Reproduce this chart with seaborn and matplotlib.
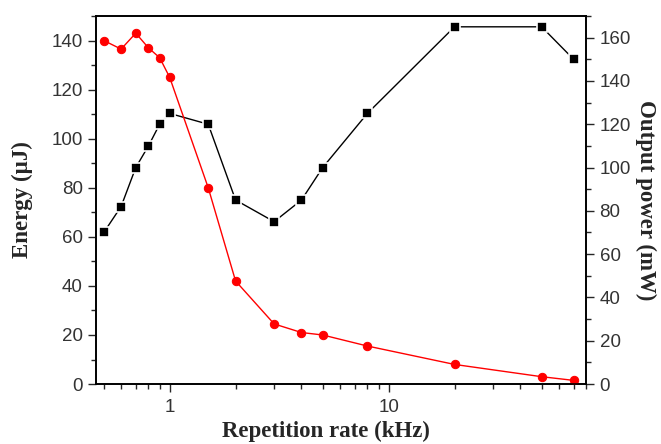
import matplotlib
matplotlib.use("Agg")
import matplotlib.pyplot as plt
import seaborn as sns
import pandas as pd
from matplotlib.ticker import MultipleLocator, LogLocator, NullFormatter

# -------------------------------
# Data
# -------------------------------

rate_khz = [0.5, 0.6, 0.7, 0.8, 0.9, 1, 1.5, 2, 3, 4, 5, 8, 20, 50, 70]
energy_uj = [140, 136.5, 143, 137, 133, 125, 80, 42, 24.5, 21, 20, 15.5, 8, 3, 1.5]
power_mw = [70, 82, 100, 110, 120, 125, 120, 85, 75, 85, 100, 125, 165, 165, 150]
x_ticks = [1, 10]
x_tick_labels = ["1", "10"]

df = pd.DataFrame({"rate": rate_khz, "energy": energy_uj, "power": power_mw})

# -------------------------------
# Plot
# -------------------------------

sns.set_style("ticks")
plt.rcParams["font.family"] = ["Liberation Sans", "DejaVu Sans"]

fig, ax = plt.subplots(figsize=(6.61, 4.44), dpi=100)
fig.subplots_adjust(left=0.145, right=0.887, bottom=0.135, top=0.964)
ax2 = ax.twinx()

sns.lineplot(data=df, x="rate", y="energy", ax=ax, color="#ff0000",
             marker="o", markersize=6, markeredgecolor="#ff0000",
             linewidth=1.0)
sns.lineplot(data=df, x="rate", y="power", ax=ax2, color="black",
             marker="s", markersize=6.5, markeredgecolor="white",
             markeredgewidth=1.2, linewidth=1.0)

# red series drawn on top of the black one
ax.set_zorder(ax2.get_zorder() + 1)
ax.patch.set_visible(False)

ax.set_xscale("log")
ax.set_xlim(0.46, 80)
ax.set_ylim(0, 150)
ax2.set_ylim(0, 170)

ax.set_xticks(x_ticks)
ax.set_xticklabels(x_tick_labels)
ax.xaxis.set_minor_locator(LogLocator(base=10, subs=range(2, 10)))
ax.xaxis.set_minor_formatter(NullFormatter())

ax.yaxis.set_major_locator(MultipleLocator(20))
ax.yaxis.set_minor_locator(MultipleLocator(10))
ax2.yaxis.set_major_locator(MultipleLocator(20))
ax2.yaxis.set_minor_locator(MultipleLocator(10))

label_font = dict(family="Liberation Serif", weight="bold", size=16.5)
ax.set_xlabel("Repetition rate (kHz)", labelpad=4, **label_font)
ax.xaxis.set_label_coords(0.47, -0.1)
ax.set_ylabel("Energy (\u00b5J)", labelpad=13, **label_font)
ax2.set_ylabel("Output power (mW)", rotation=270, va="bottom",
               labelpad=3, **label_font)

for a in (ax, ax2):
    a.tick_params(which="major", length=6, width=1.0, labelsize=13.5,
                  labelcolor="#333333", direction="out")
    a.tick_params(which="minor", length=3.5, width=1.0, direction="out")
    for s in a.spines.values():
        s.set_visible(True)
        s.set_linewidth(1.2)
        s.set_color("black")

ax.tick_params(axis="x", which="major", pad=5)

fig.savefig("out.png", dpi=100)
plt.close(fig)
